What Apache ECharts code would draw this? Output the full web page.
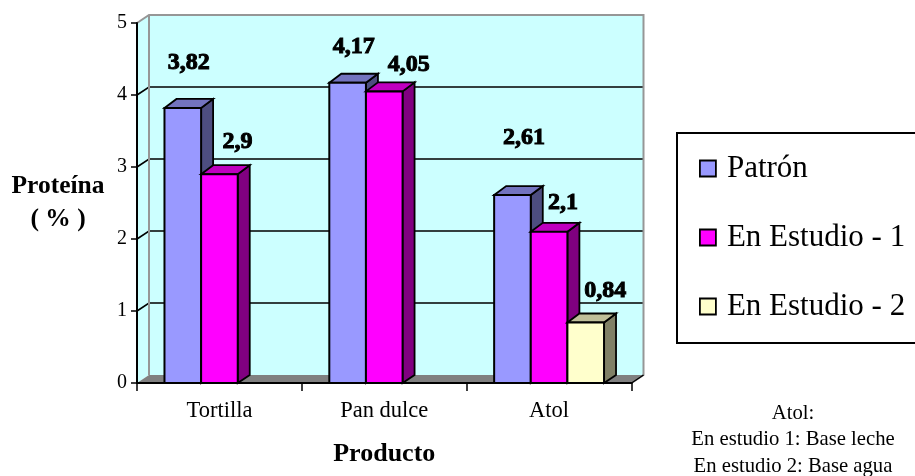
<!DOCTYPE html>
<html>
<head>
<meta charset="utf-8">
<style>html,body{margin:0;padding:0;background:#fff}#chart{width:915px;height:476px}</style>
<script src="https://cdn.jsdelivr.net/npm/echarts@6/dist/echarts.min.js"></script>
</head>
<body>
<div id="chart"></div>
<script>
// Protein content per product
const categories = ['Tortilla', 'Pan dulce', 'Atol'];
const seriesNames = ['Patrón', 'En Estudio - 1', 'En Estudio - 2'];
const patron = [3.82, 4.17, 2.61];
const estudio1 = [2.9, 4.05, 2.1];
const estudio2 = [null, null, 0.84];
const yTicks = [0, 1, 2, 3, 4, 5];

// Pseudo-3D layout: the back wall is the front plane shifted by this depth
const DEPTH_X = 12, DEPTH_Y = -8, BAR_DEPTH_Y = -9;
const FONT = '"Liberation Serif", serif';
const faces = [
  { front: '#9999FF', top: '#7373BF', side: '#4D4D80' },
  { front: '#FF00FF', top: '#BF00BF', side: '#800080' },
  { front: '#FFFFCC', top: '#BFBF99', side: '#808066' }
];
// Pixel nudges of each value label relative to its bar top centre
const labelNudge = [
  [[6, -45], [18, -32], [0, 0]],
  [[6, -36], [24.5, -27], [0, 0]],
  [[11.5, -57], [14, -29], [19.5, -32]]
];

const poly = (pts, fill, stroke, lw) => ({
  type: 'polygon',
  shape: { points: pts },
  style: { fill, stroke: stroke || 'none', lineWidth: lw || 0, lineJoin: 'miter' }
});

// Walls, floor and gridlines of the chart box
function renderWalls(params, api) {
  const x0 = api.coord([0, 0])[0] - api.size([1, 0])[0] / 2;
  const x1 = x0 + api.size([1, 0])[0] * categories.length;
  const y0 = api.coord([0, 0])[1];
  const y5 = api.coord([0, 5])[1];
  const dx = DEPTH_X, dy = DEPTH_Y;
  const children = [
    poly([[x0 + dx, y5 + dy], [x1 + dx, y5 + dy], [x1 + dx, y0 + dy], [x0 + dx, y0 + dy]], '#CCFFFF'),
    poly([[x0, y5], [x0 + dx, y5 + dy], [x0 + dx, y0 + dy], [x0, y0]], '#CCFFFF'),
    poly([[x0, y0], [x0 + dx, y0 + dy], [x1 + dx, y0 + dy], [x1, y0]], '#808080')
  ];
  yTicks.slice(1, -1).forEach(t => {
    const y = api.coord([0, t])[1];
    children.push({
      type: 'polyline',
      shape: { points: [[x0, y], [x0 + dx, y + dy], [x1 + dx, y + dy]] },
      style: { fill: 'none', stroke: '#000', lineWidth: 1.6 }
    });
  });
  children.push({
    type: 'polyline',
    shape: { points: [[x0, y5], [x0 + dx, y5 + dy], [x1 + dx, y5 + dy], [x1 + dx, y0 + dy], [x1, y0]] },
    style: { fill: 'none', stroke: '#969696', lineWidth: 2 }
  });
  children.push({
    type: 'line',
    shape: { x1: x0 + dx, y1: y5 + dy, x2: x0 + dx, y2: y0 + dy },
    style: { stroke: '#969696', lineWidth: 2 }
  });
  children.push({
    type: 'line',
    shape: { x1: x1 + dx, y1: y0 + dy, x2: x1, y2: y0 },
    style: { stroke: '#000', lineWidth: 1.5 }
  });
  return { type: 'group', children };
}

// One box per data point: front face, roof, right side and value label
function barRenderer(si) {
  return function (params, api) {
    const cat = api.value(0), val = api.value(1);
    const band = api.size([1, 0])[0];
    const w = band / 4.5;
    const c = api.coord([cat, 0]);
    const left = c[0] - band / 2 + band * 0.1667 + w * si;
    const right = left + w;
    const y0 = c[1];
    const yt = api.coord([cat, val])[1];
    const dx = DEPTH_X, dy = BAR_DEPTH_Y;
    const f = faces[si];
    const line = '#000';
    const n = labelNudge[cat][si];
    return {
      type: 'group',
      children: [
        poly([[right, yt], [right + dx, yt + dy], [right + dx, y0 + DEPTH_Y], [right, y0]], f.side, line, 1.8),
        poly([[left, yt], [left + dx, yt + dy], [right + dx, yt + dy], [right, yt]], f.top, line, 1.8),
        poly([[left, yt], [right, yt], [right, y0], [left, y0]], f.front, line, 2),
        {
          type: 'text',
          z2: 20,
          style: {
            x: (left + right) / 2 + n[0],
            y: yt + n[1],
            text: String(val).replace('.', ','),
            font: 'bold 24px ' + FONT,
            fill: '#000',
            stroke: '#000',
            lineWidth: 1,
            align: 'center',
            verticalAlign: 'middle'
          }
        }
      ]
    };
  };
}

const pointsOf = values =>
  values.map((v, i) => (v === null ? null : [i, v])).filter(Boolean);

const valueSets = [patron, estudio1, estudio2];

const chart = echarts.init(document.getElementById('chart'), null, { renderer: 'canvas' });
chart.setOption({
  animation: false,
  backgroundColor: '#fff',
  grid: { left: 137, top: 23, width: 494.5, height: 360, containLabel: false, outerBoundsMode: 'none' },
  legend: {
    orient: 'vertical',
    left: 694,
    top: 148,
    itemWidth: 16,
    itemHeight: 16,
    itemGap: 38,
    itemStyle: { borderColor: '#000', borderWidth: 1.8 },
    icon: 'rect',
    selectedMode: false,
    data: seriesNames,
    textStyle: { fontFamily: FONT, fontSize: 31, color: '#000', padding: [0, 0, 0, 6] }
  },
  xAxis: {
    type: 'category',
    data: categories,
    z: 10,
    name: 'Producto',
    nameLocation: 'middle',
    nameGap: 58,
    nameTextStyle: { fontFamily: FONT, fontWeight: 'bold', fontSize: 26, color: '#000' },
    axisLine: { lineStyle: { color: '#000', width: 2 } },
    axisTick: { show: true, alignWithLabel: false, length: 8, lineStyle: { color: '#000', width: 1.5 } },
    axisLabel: { fontFamily: FONT, fontSize: 22.5, color: '#000', margin: 17 }
  },
  yAxis: {
    type: 'value',
    min: 0,
    max: 5,
    interval: 1,
    z: 10,
    name: 'Proteína\n( % )',
    nameLocation: 'middle',
    nameRotate: 0,
    nameGap: 79,
    nameTextStyle: { fontFamily: FONT, fontWeight: 'bold', fontSize: 25.5, color: '#000', lineHeight: 33, align: 'center' },
    splitLine: { show: false },
    axisLine: { show: true, lineStyle: { color: '#000', width: 2 } },
    axisTick: { show: true, length: 6, lineStyle: { color: '#000', width: 1.5 } },
    axisLabel: { fontFamily: FONT, fontSize: 20, color: '#000', margin: 10, padding: [4, 0, 0, 0] }
  },
  graphic: [
    {
      type: 'rect',
      z: -1,
      shape: { x: 677, y: 133, width: 260, height: 210 },
      style: { fill: '#fff', stroke: '#000', lineWidth: 2 }
    },
    {
      type: 'text',
      x: 793,
      y: 400,
      style: {
        text: 'Atol:\nEn estudio 1: Base leche\nEn estudio 2: Base agua',
        font: '20.7px ' + FONT,
        lineHeight: 26.5,
        fill: '#000',
        align: 'center'
      }
    }
  ],
  series: [
    {
      type: 'custom',
      name: 'walls',
      silent: true,
      coordinateSystem: 'cartesian2d',
      renderItem: renderWalls,
      data: [[0, 0]],
      z: 1
    }
  ].concat(seriesNames.map((name, si) => ({
    type: 'custom',
    name,
    coordinateSystem: 'cartesian2d',
    renderItem: barRenderer(si),
    itemStyle: { color: faces[si].front },
    encode: { x: 0, y: 1 },
    data: pointsOf(valueSets[si]),
    z: 2 + si
  })))
});
</script>
</body>
</html>
